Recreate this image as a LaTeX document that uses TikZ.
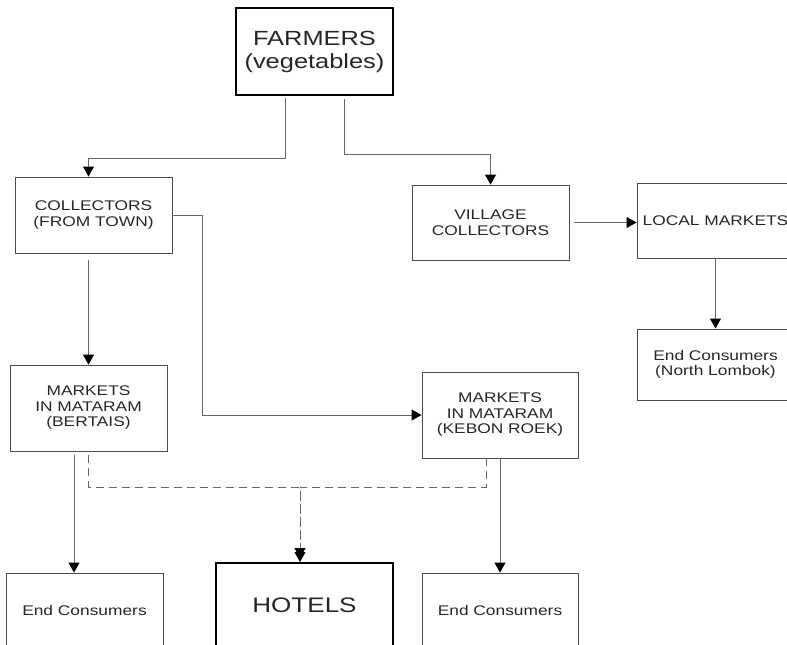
\documentclass[tikz,border=0pt]{standalone}
\usepackage{fontspec}
\usepackage{tikz}
\usetikzlibrary{positioning, calc, arrows.meta}
\newfontfamily\diagfont[FakeStretch=1.24]{Liberation Sans}

\begin{document}
\begin{tikzpicture}[x=1pt, y=-1pt,
    box/.style={draw=black!70, line width=0.9pt, align=center, inner sep=0pt,
        minimum width=157pt, text=black!85,
        font=\diagfont\fontsize{14}{15.5}\selectfont},
    bigbox/.style={box, draw=black, line width=2pt,
        font=\diagfont\fontsize{20.5}{23}\selectfont},
    flow/.style={draw=black!60, line width=0.9pt,
        -{Triangle[width=11pt, length=10pt, color=black]}},
    dashflow/.style={flow, dash pattern=on 8pt off 5pt}]

        % Fix the page size
        \useasboundingbox (0,0) rectangle (787,645);

        % Draw the boxes
        \node[bigbox, minimum height=87pt] (farmers) at (314.5,51.5) {FARMERS\\(vegetables)};
        \node[box, minimum height=76pt] (collectors) at (93.5,215) {COLLECTORS\\(FROM TOWN)};
        \node[box, minimum height=75pt] (village) at (490.5,222.5) {VILLAGE\\COLLECTORS};
        \node[box, minimum height=75pt] (local) at (715.5,220.5) {LOCAL MARKETS};
        \node[box, minimum height=71pt] (endnl) at (715.5,364.5) {End Consumers\\(North Lombok)};
        \node[box, minimum height=86pt] (bertais) at (88.5,408) {MARKETS\\IN MATARAM\\(BERTAIS)};
        \node[box, minimum height=86pt, minimum width=156pt] (kebon) at (500,415) {MARKETS\\IN MATARAM\\(KEBON ROEK)};
        \node[box, minimum height=74pt] (endl) at (84.5,610) {End Consumers};
        \node[bigbox, minimum height=84pt, minimum width=177pt, font=\diagfont\fontsize{21}{23}\selectfont] (hotels) at (304.5,605) {HOTELS};
        \node[box, minimum height=74pt, minimum width=156pt] (endr) at (500,610) {End Consumers};

        % Farmers to the two collectors
        \draw[flow, shorten <=2pt] ([xshift=-29.5pt]farmers.south) -- ++(0,62) -| (bertais.north |- collectors.north);
        \draw[flow, shorten <=3pt] ([xshift=29.5pt]farmers.south) -- ++(0,58) -| (village.north);

        % Collectors (from town) to the markets
        \draw[flow, shorten <=7pt] (bertais.north |- collectors.south) -- (bertais.north);
        \draw[flow] (collectors.east) -- ++(30,0) |- (kebon.west);

        % Village collectors to local markets to North Lombok
        \draw[flow, shorten <=5pt] (village.east) -- (village.east -| local.west);
        \draw[flow] (local.south) -- (endnl.north);

        % Markets to end consumers
        \draw[flow, shorten <=4pt] ([xshift=-14.5pt]bertais.south) -- ([xshift=-14.5pt]bertais.south |- endl.north);
        \draw[flow] (kebon.south) -- (endr.north);

        % Dashed supply to the hotels
        \draw[dashflow, shorten <=4pt] (bertais.south) -- ++(0,36) -| ([xshift=-4.5pt]hotels.north);
        \draw[dashflow, shorten >=4pt] ([xshift=-14pt]kebon.south) -- ++(0,29) -| ([xshift=-4.5pt]hotels.north);

\end{tikzpicture}
\end{document}
